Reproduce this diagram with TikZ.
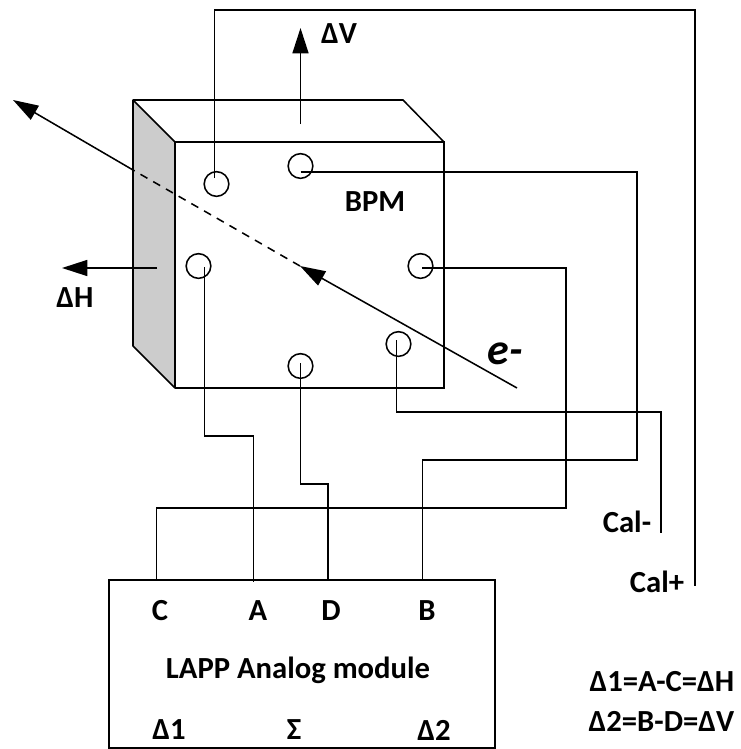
\documentclass[tikz,border=0pt]{standalone}
\usepackage{fontspec}
\setmainfont{Carlito}
\usetikzlibrary{arrows.meta,calc,positioning}
\tikzset{
  bpm diagram/.style={x=0.75pt, y=-0.75pt, line width=1.15pt},
  wire/.style={draw, line width=1.15pt},
  port/.style={circle, draw, line width=1.15pt, minimum size=18.5pt, inner sep=0pt},
  bigarrow/.style={-{Triangle[length=19pt,width=12pt]}, line width=1.15pt},
  lbl/.style={font=\bfseries\fontsize{23}{25}\selectfont, inner sep=0pt},
  side face/.style={fill=black!20, draw, line join=round},
  module/.style={draw, line width=1.15pt, minimum width=289.5pt, minimum height=126pt, inner sep=0pt},
}
\begin{document}
\begin{tikzpicture}[bpm diagram]
    \useasboundingbox (0,0) rectangle (740,749);
    % BPM body
    \draw[side face] (133,100) coordinate (backTL) -- (175,142) coordinate (frontTL) -- (175,388) coordinate (frontBL) -- (133,346) -- cycle;
    \draw (backTL) -- (403,100) coordinate (backTR) -- (444,142) coordinate (frontTR);
    \draw (frontTL) -- (frontTR) -- (444,388) coordinate (frontBR) -- (frontBL);

    % Pick-up ports
    \node[port] (portCalP) at (216.5,184) {};
    \node[port] (portB) at (300.5,166) {};
    \node[port] (portA) at (198.5,266) {};
    \node[port] (portC) at (420.5,266) {};
    \node[port] (portD) at (300.5,366) {};
    \node[port] (portCalM) at (398.5,344) {};

    % Analog module
    \node[module] (lapp) at (301.75,664) {};

    % Beam and displacement arrows
    \coordinate (beamIn) at (517,388);
    \coordinate (beamMid) at (300,266);
    \coordinate (beamWall) at (133,170);
    \coordinate (beamOut) at (13,100);
    \draw[bigarrow] (beamIn) -- (beamMid);
    \draw[line width=1.15pt, dash pattern=on 6pt off 5pt] (beamMid) -- (beamWall);
    \draw[bigarrow] (beamWall) -- (beamOut);
    \coordinate (dVfoot) at (300.5,124);
    \coordinate (dVtip) at (300.5,28);
    \draw[bigarrow] (dVfoot) -- (dVtip);
    \coordinate (dHfoot) at (157,268);
    \coordinate (dHtip) at (62,268);
    \draw[bigarrow] (dHfoot) -- (dHtip);

    % Wires to the module
    \coordinate (inCalP) at (214.5,178);
    \coordinate (endCalP) at (695,586);
    \draw[wire] (inCalP) |- (endCalP |- 0,10) -- (endCalP);
    \coordinate (inCalM) at (396.7,340);
    \coordinate (endCalM) at (661,533);
    \draw[wire] (inCalM) |- (endCalM |- 0,412) -- (endCalM);
    \coordinate (inB) at (300.5,172);
    \coordinate (pinB) at (422.5,580);
    \draw[wire] (inB) -- (637,172) |- (pinB |- 0,460) -- (pinB);
    \coordinate (inC) at (422,268);
    \coordinate (pinC) at (156.7,580);
    \draw[wire] (inC) -- (566,268) |- (pinC |- 0,508) -- (pinC);
    \coordinate (inA) at (204.3,267);
    \coordinate (pinA) at (253.5,582);
    \draw[wire] (inA) |- (pinA |- 0,436) -- (pinA);
    \coordinate (inD) at (300.5,363);
    \coordinate (pinD) at (328,580);
    \draw[wire] (inD) |- (pinD |- 0,484) -- (pinD);

    % Labels
    \node[lbl] (lblDV) at (339,34) {ΔV};
    \node[lbl] (lblDH) at (75,298) {ΔH};
    \node[lbl] (lblBPM) at (375,202) {BPM};
    \node[lbl, font=\bfseries\itshape\fontsize{33}{35}\selectfont] (lblE) at (505,354) {e-};
    \node[lbl] (lblCalM) at (627,522) {Cal-};
    \node[lbl] (lblCalP) at (657,582) {Cal+};
    \node[lbl] (lblC) at (160,611) {C};
    \node[lbl] (lblA) at (258,611) {A};
    \node[lbl] (lblD) at (331,611) {D};
    \node[lbl] (lblB) at (427,611) {B};
    \node[lbl] (lblLapp) at (298,670) {LAPP Analog module};
    \node[lbl] (lblD1) at (169,730) {Δ1};
    \node[lbl] (lblS) at (294,730) {Σ};
    \node[lbl] (lblD2) at (434,730) {Δ2};
    \node[lbl, anchor=east] (lblEqH) at (735,682) {Δ1=A-C=ΔH};
    \node[lbl, anchor=east] (lblEqV) at (735,721) {Δ2=B-D=ΔV};
\end{tikzpicture}
\end{document}
